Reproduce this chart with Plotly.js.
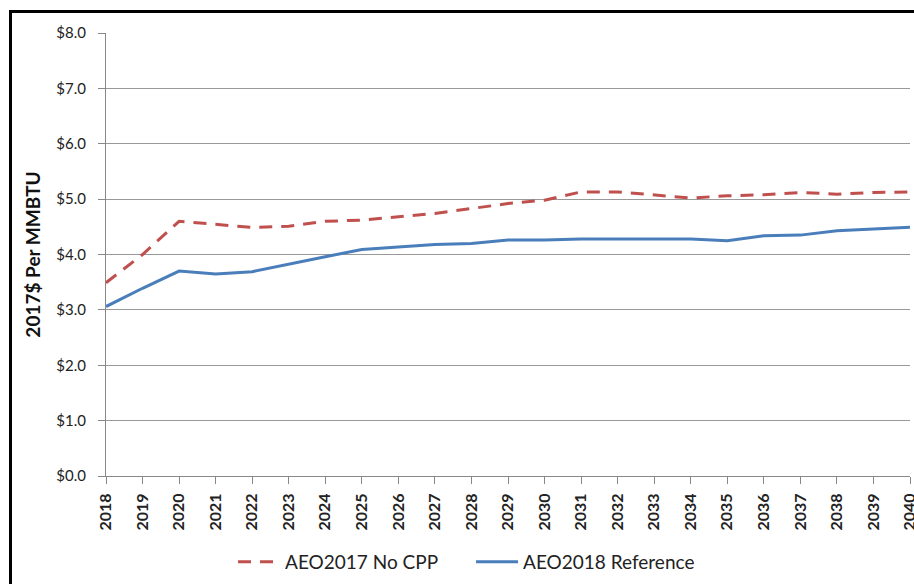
<!DOCTYPE html>
<html><head><meta charset="utf-8">
<script src="https://cdn.plot.ly/plotly-3.0.1.min.js"></script>
<style>
body{margin:0;padding:0;background:#fff;}
#wrap{position:relative;width:914px;height:584px;overflow:hidden;}
#chart{width:930px;height:584px;}
#frame{position:absolute;left:9px;top:10px;width:1000px;height:700px;border-left:3px solid #000;border-top:3px solid #000;pointer-events:none;}
</style></head>
<body>
<div id="wrap"><div id="chart"></div><div id="frame"></div></div>
<script>
const years = [2018,2019,2020,2021,2022,2023,2024,2025,2026,2027,2028,2029,2030,2031,2032,2033,2034,2035,2036,2037,2038,2039,2040];
const aeo2017NoCPP = [3.49,4.00,4.60,4.54,4.49,4.51,4.60,4.62,4.68,4.74,4.83,4.92,4.98,5.13,5.13,5.08,5.02,5.06,5.08,5.12,5.09,5.12,5.13];
const aeo2018Ref = [3.06,3.39,3.70,3.65,3.69,3.83,3.96,4.09,4.14,4.18,4.20,4.26,4.26,4.28,4.28,4.28,4.28,4.25,4.34,4.35,4.43,4.46,4.49];
const seriesNames = ['AEO2017 No CPP','AEO2018 Reference'];
const yTitle = '2017$ Per MMBTU';

const font = 'Lato, "Open Sans", sans-serif';
const traces = [
  {x: years, y: aeo2017NoCPP, name: seriesNames[0], mode: 'lines', type: 'scatter',
   line: {color: '#c0504d', width: 3, dash: '13px,9px'}},
  {x: years, y: aeo2018Ref, name: seriesNames[1], mode: 'lines', type: 'scatter',
   line: {color: '#4a7ebb', width: 3}}
];
const layout = {
  width: 930, height: 584,
  margin: {l: 106, r: 20, t: 33, b: 108, autoexpand: false},
  paper_bgcolor: '#fff', plot_bgcolor: '#fff',
  font: {family: font, color: '#222', size: 14},
  showlegend: true,
  legend: {orientation: 'h', x: 0.158, xanchor: 'left', y: -0.194, yanchor: 'middle',
           font: {size: 19, color: '#222', family: font}, itemwidth: 42,
           entrywidth: 181, entrywidthmode: 'pixels'},
  xaxis: {range: [2018, 2040], tickmode: 'array', tickvals: years, ticktext: years.map(String),
          tickangle: -90, ticks: 'outside', ticklen: 7, tickcolor: '#888', showgrid: false,
          showline: true, linecolor: '#888', linewidth: 1, zeroline: false, automargin: false,
          ticklabelstandoff: 3,
          tickfont: {size: 16, color: '#222', family: font, weight: 'bold'}},
  yaxis: {range: [0, 8], dtick: 1, tickprefix: '$', tickformat: '.1f', ticks: 'outside', ticklen: 7,
          tickcolor: '#888', showgrid: true, gridcolor: '#999', gridwidth: 1,
          showline: true, linecolor: '#888', linewidth: 1, zeroline: false, automargin: false,
          ticklabelstandoff: 9,
          tickfont: {size: 15, color: '#222', family: font},
          title: {text: '<b>' + yTitle + '</b>', font: {size: 19, color: '#111', family: font}, standoff: 10}}
};
Plotly.newPlot('chart', traces, layout, {displayModeBar: false, staticPlot: true});
</script>
</body></html>
